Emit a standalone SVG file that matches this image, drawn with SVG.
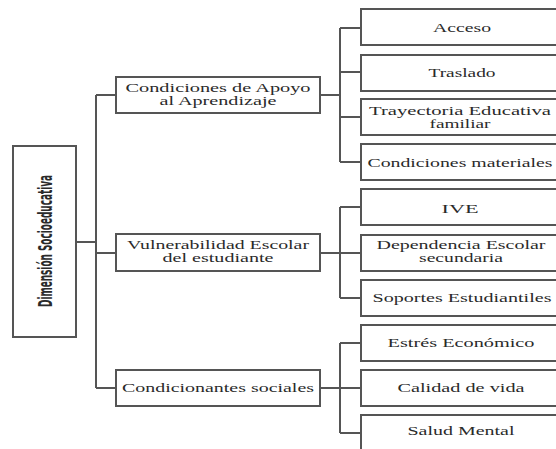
<svg xmlns="http://www.w3.org/2000/svg" width="556" height="449" viewBox="0 0 556 449">
<style>
.box{fill:#fff;stroke:#555;stroke-width:2}
.ln{fill:none;stroke:#555;stroke-width:2}
.t{font-family:'Liberation Serif','DejaVu Serif','Noto Serif','Times New Roman',serif;font-size:13px;fill:#2a2a2a;text-anchor:middle}
.t2{font-size:12px}
.r{font-family:'Liberation Sans Narrow','DejaVu Sans Condensed','Liberation Sans',sans-serif;font-size:19px;font-weight:bold;fill:#2a2a2a;text-anchor:middle}
</style>
<rect width="556" height="449" fill="#fff"/>
<g id="connectors" class="ln">
<path d="M76 242H96M96 95V388M96 95H116M96 253H116M96 388H116"/>
<path d="M320 95H340M340 28V162M340 28H361M340 72H361M340 117H361M340 162H361"/>
<path d="M320 253H340M340 207V298M340 207H361M340 253H361M340 298H361"/>
<path d="M320 388H340M340 343V433M340 343H361M340 388H361M340 433H361"/>
</g>
<g id="root">
<rect class="box" x="13" y="146" width="63" height="191"/>
<text class="r" transform="translate(44,241) rotate(-90)" x="0" y="8" textLength="132" lengthAdjust="spacingAndGlyphs">Dimensión Socioeducativa</text>
</g>
<g id="apoyo">
<rect class="box" x="116" y="77" width="204" height="36"/>
<text class="t t2" x="218" y="91.5" textLength="185" lengthAdjust="spacingAndGlyphs">Condiciones de Apoyo</text>
<text class="t t2" x="218" y="104.5" textLength="117" lengthAdjust="spacingAndGlyphs">al Aprendizaje</text>
</g>
<g id="vulnerabilidad">
<rect class="box" x="116" y="234" width="204" height="37"/>
<text class="t t2" x="218" y="249" textLength="182" lengthAdjust="spacingAndGlyphs">Vulnerabilidad Escolar</text>
<text class="t t2" x="218" y="262" textLength="111" lengthAdjust="spacingAndGlyphs">del estudiante</text>
</g>
<g id="condicionantes">
<rect class="box" x="116" y="370" width="204" height="36"/>
<text class="t" x="218" y="392" textLength="192" lengthAdjust="spacingAndGlyphs">Condicionantes sociales</text>
</g>
<g id="acceso">
<rect class="box" x="361" y="9" width="200" height="36"/>
<text class="t" x="462" y="32" textLength="58" lengthAdjust="spacingAndGlyphs">Acceso</text>
</g>
<g id="traslado">
<rect class="box" x="361" y="55" width="200" height="36"/>
<text class="t" x="462" y="77" textLength="67" lengthAdjust="spacingAndGlyphs">Traslado</text>
</g>
<g id="trayectoria">
<rect class="box" x="361" y="99" width="200" height="36"/>
<text class="t t2" x="460" y="114.5" textLength="182" lengthAdjust="spacingAndGlyphs">Trayectoria  Educativa</text>
<text class="t t2" x="460" y="127.5" textLength="61" lengthAdjust="spacingAndGlyphs">familiar</text>
</g>
<g id="materiales">
<rect class="box" x="361" y="144" width="200" height="36"/>
<text class="t" x="460" y="167" textLength="185" lengthAdjust="spacingAndGlyphs">Condiciones materiales</text>
</g>
<g id="ive">
<rect class="box" x="361" y="189" width="200" height="36"/>
<text class="t" x="460" y="213" textLength="37" lengthAdjust="spacingAndGlyphs">IVE</text>
</g>
<g id="dependencia">
<rect class="box" x="361" y="235" width="200" height="36"/>
<text class="t t2" x="461" y="249" textLength="169" lengthAdjust="spacingAndGlyphs">Dependencia Escolar</text>
<text class="t t2" x="461" y="262" textLength="84" lengthAdjust="spacingAndGlyphs">secundaria</text>
</g>
<g id="soportes">
<rect class="box" x="361" y="280" width="200" height="36"/>
<text class="t" x="462" y="302" textLength="179" lengthAdjust="spacingAndGlyphs">Soportes Estudiantiles</text>
</g>
<g id="estres">
<rect class="box" x="361" y="325" width="200" height="36"/>
<text class="t" x="461" y="347" textLength="147" lengthAdjust="spacingAndGlyphs">Estrés Económico</text>
</g>
<g id="calidad">
<rect class="box" x="361" y="370" width="200" height="36"/>
<text class="t" x="461" y="392" textLength="127" lengthAdjust="spacingAndGlyphs">Calidad de vida</text>
</g>
<g id="salud">
<rect class="box" x="361" y="415" width="200" height="40"/>
<text class="t" x="461" y="435" textLength="107" lengthAdjust="spacingAndGlyphs">Salud Mental</text>
</g>
</svg>
